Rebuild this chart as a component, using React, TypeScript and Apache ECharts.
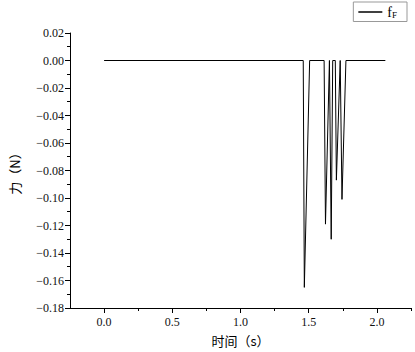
import React, { useEffect, useRef } from "react";
import * as echarts from "echarts";

const timeValues = [0, 1.46, 1.468, 1.507, 1.613, 1.623, 1.652, 1.665, 1.676, 1.695, 1.703, 1.731, 1.744, 1.773, 2.062];
const forceValues = [0, 0, -0.165, 0, 0, -0.119, 0, -0.13, 0, 0, -0.087, 0, -0.101, 0, 0];
const xMajorTicks = [0, 0.5, 1.0, 1.5, 2.0];
const xMinorTicks = [0.25, 0.75, 1.25, 1.75, 2.25];
const seriesName = "fF";

const serif = "Liberation Serif";
const cjk = "Noto Sans CJK SC";

export default function App() {
  const ref = useRef<HTMLDivElement>(null);
  useEffect(() => {
    if (!ref.current) return;
    const chart = echarts.init(ref.current, null, { renderer: "svg" });
    const data = timeValues.map((t, i) => [t, forceValues[i]]);
    chart.setOption({
      animation: false,
      backgroundColor: "#ffffff",
      grid: { left: 67, top: 33, right: 4, bottom: 42, containLabel: false },
      legend: {
        right: 8,
        top: 2,
        orient: "vertical",
        borderColor: "#999999",
        borderWidth: 1,
        padding: [3, 10, 2, 5],
        itemWidth: 24,
        itemHeight: 1.5,
        itemGap: 4,
        icon: "rect",
        data: [seriesName],
        formatter: () => "{f|f}{s|F}",
        textStyle: {
          color: "#000",
          fontFamily: serif,
          rich: {
            f: { fontSize: 14, fontFamily: serif, color: "#000" },
            s: { fontSize: 9, fontFamily: serif, color: "#000", verticalAlign: "bottom", padding: [6, 0, 0, 0] },
          },
        },
      },
      xAxis: [
        {
          type: "value",
          min: -0.25,
          max: 2.25,
          position: "bottom",
          name: "时间（s）",
          nameLocation: "middle",
          nameGap: 26,
          nameTextStyle: { fontFamily: cjk, fontSize: 13, color: "#000" },
          axisLine: { show: true, onZero: false, lineStyle: { color: "#000", width: 1 } },
          axisTick: { show: true, inside: false, length: 5, customValues: xMajorTicks, lineStyle: { color: "#000" } },
          axisLabel: {
            customValues: xMajorTicks,
            formatter: (v: number) => v.toFixed(1),
            fontFamily: serif,
            fontSize: 12,
            color: "#111",
            margin: 8,
          },
          splitLine: { show: false },
        },
        {
          type: "value",
          min: -0.25,
          max: 2.25,
          position: "bottom",
          axisLine: { show: false, onZero: false },
          axisTick: { show: true, inside: false, length: 3, customValues: xMinorTicks, lineStyle: { color: "#000" } },
          axisLabel: { show: false },
          splitLine: { show: false },
        },
      ],
      yAxis: {
        type: "value",
        min: -0.18,
        max: 0.02,
        interval: 0.02,
        name: "力（N）",
        nameLocation: "middle",
        nameGap: 49,
        nameRotate: 90,
        nameTextStyle: { fontFamily: cjk, fontSize: 13, color: "#000" },
        axisLine: { show: true, onZero: false, lineStyle: { color: "#000", width: 1 } },
        axisTick: { show: true, inside: false, length: 5, lineStyle: { color: "#000" } },
        minorTick: { show: true, splitNumber: 2, length: 3, lineStyle: { color: "#000" } },
        axisLabel: {
          formatter: (v: number) => (v < 0 ? "−" : "") + Math.abs(v).toFixed(2),
          fontFamily: serif,
          fontSize: 12,
          color: "#111",
          margin: 6,
        },
        splitLine: { show: false },
      },
      series: [
        {
          name: seriesName,
          type: "line",
          xAxisIndex: 0,
          data,
          symbol: "none",
          lineStyle: { color: "#000", width: 1 },
          itemStyle: { color: "#000" },
        },
      ],
    });
    return () => chart.dispose();
  }, []);
  return <div ref={ref} style={{ width: 415, height: 352, position: "fixed", left: 0, top: 0 }} />;
}
